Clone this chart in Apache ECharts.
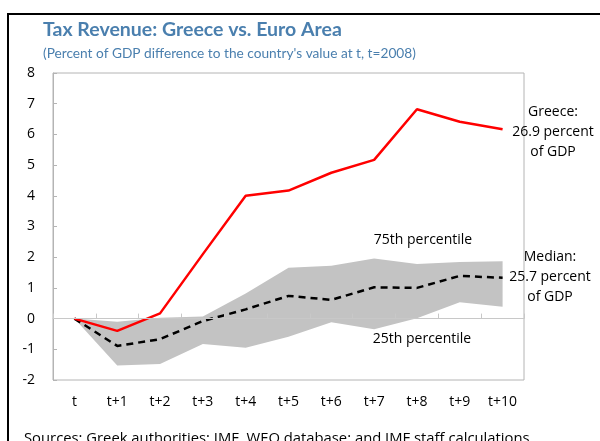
<!DOCTYPE html>
<html>
<head>
<meta charset="utf-8">
<script src="https://cdn.jsdelivr.net/npm/echarts@6/dist/echarts.min.js"></script>
<style>
html, body { margin: 0; padding: 0; background: #fff; }
#chart { width: 600px; height: 441px; }
</style>
</head>
<body>
<div id="chart"></div>
<script>
var categories = ['t', 't+1', 't+2', 't+3', 't+4', 't+5', 't+6', 't+7', 't+8', 't+9', 't+10'];
var greece = [0, -0.4, 0.17, 2.1, 4.0, 4.17, 4.75, 5.17, 6.82, 6.41, 6.17];
var median = [0, -0.89, -0.67, -0.08, 0.3, 0.74, 0.61, 1.02, 1.0, 1.39, 1.33];
var p25 = [0, -1.53, -1.48, -0.83, -0.95, -0.59, -0.12, -0.35, 0.01, 0.53, 0.39];
var p75 = [0, -0.1, 0.03, 0.07, 0.82, 1.66, 1.72, 1.96, 1.78, 1.84, 1.87];
var yTicks = [-2, -1, 0, 1, 2, 3, 4, 5, 6, 7, 8];

// band height on top of the 25th percentile
var band = p75.map(function (v, i) { return +(v - p25[i]).toFixed(2); });

var font = 'Open Sans';
var titleFont = 'Lato';
var blue = '#4a7fae';

var chart = echarts.init(document.getElementById('chart'));
chart.setOption({
    animation: false,
    textStyle: { fontFamily: font },
    grid: {
        left: 53, top: 73, right: 76, bottom: 61,
        show: true,
        borderColor: '#b4b4b4',
        borderWidth: 1,
        backgroundColor: '#fff'
    },
    xAxis: [
        {
            type: 'category',
            data: categories,
            position: 'bottom',
            boundaryGap: true,
            z: 5,
            axisLine: { onZero: true, lineStyle: { color: '#c8c8c8', width: 1 } },
            axisTick: { show: true, inside: true, length: 5, lineStyle: { color: '#c8c8c8' } },
            axisLabel: { show: false },
            splitLine: { show: false }
        },
        {
            type: 'category',
            data: categories,
            position: 'bottom',
            boundaryGap: true,
            axisLine: { show: false, onZero: false },
            axisTick: { show: false },
            axisLabel: { show: true, margin: 15, color: '#000', fontSize: 14, fontFamily: font },
            splitLine: { show: false }
        }
    ],
    yAxis: {
        type: 'value',
        min: yTicks[0],
        max: yTicks[yTicks.length - 1],
        interval: 1,
        axisLine: { show: true, lineStyle: { color: '#b4b4b4' } },
        axisTick: { show: true, inside: true, length: 4, lineStyle: { color: '#b4b4b4' } },
        axisLabel: { color: '#000', fontSize: 14, margin: 18, fontFamily: font },
        splitLine: { show: false }
    },
    series: [
        {
            name: 'p25',
            type: 'line',
            stack: 'band',
            stackStrategy: 'all',
            data: p25,
            symbol: 'none',
            lineStyle: { opacity: 0 },
            z: 1
        },
        {
            name: 'band',
            type: 'line',
            stack: 'band',
            stackStrategy: 'all',
            data: band,
            symbol: 'none',
            lineStyle: { opacity: 0 },
            areaStyle: { color: '#c3c3c3', opacity: 1 },
            z: 1
        },
        {
            name: 'Median',
            type: 'line',
            data: median,
            symbol: 'none',
            lineStyle: { color: '#000', width: 2.5, type: [7, 5] },
            z: 3
        },
        {
            name: 'Greece',
            type: 'line',
            data: greece,
            symbol: 'none',
            lineStyle: { color: '#ff0000', width: 2.5 },
            z: 4
        }
    ],
    graphic: [
        {
            type: 'rect',
            shape: { x: 8, y: 14, width: 620, height: 460 },
            style: { fill: null, stroke: '#000', lineWidth: 2 },
            z: 0
        },
        {
            type: 'text', left: 43, top: 20,
            style: { text: 'Tax Revenue: Greece vs. Euro Area', fill: blue, font: 'bold 19.5px ' + titleFont }
        },
        {
            type: 'text', left: 43, top: 47,
            style: { text: '(Percent of GDP difference to the country\'s value at t, t=2008)', fill: blue, font: '13.7px ' + titleFont }
        },
        {
            type: 'text', x: 553, y: 102,
            style: { text: 'Greece:\n26.9 percent\nof GDP', fill: '#000', font: '14px ' + font, align: 'center', lineHeight: 20 }
        },
        {
            type: 'text', x: 550, y: 247,
            style: { text: 'Median:\n25.7 percent\nof GDP', fill: '#000', font: '14px ' + font, align: 'center', lineHeight: 20 }
        },
        {
            type: 'text', x: 423, y: 233,
            style: { text: '75th percentile', fill: '#000', font: '14px ' + font, align: 'center' }
        },
        {
            type: 'text', x: 422, y: 332,
            style: { text: '25th percentile', fill: '#000', font: '14px ' + font, align: 'center' }
        },
        {
            type: 'text', left: 24, top: 431,
            style: { text: 'Sources: Greek authorities; IMF, WEO database; and IMF staff calculations.', fill: '#000', font: '14.8px ' + font }
        }
    ]
});
</script>
</body>
</html>
